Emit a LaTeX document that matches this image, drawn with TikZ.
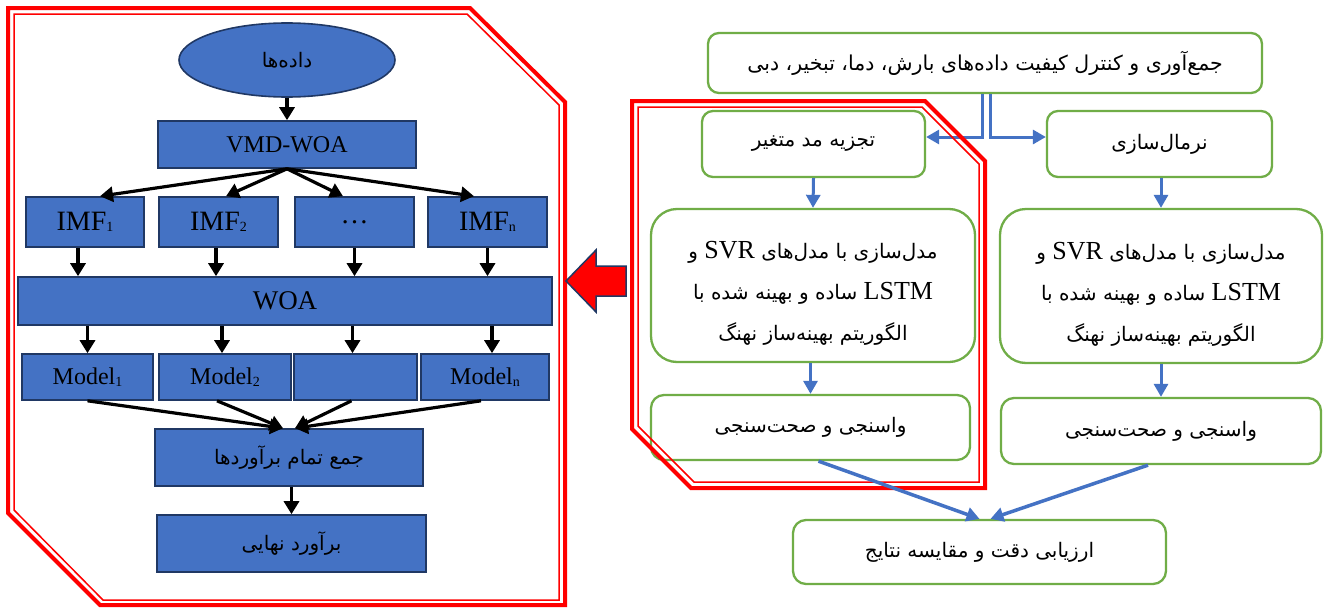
\documentclass[tikz,border=0pt]{standalone}
\usepackage{fontspec}
\setmainfont{Liberation Serif}
\newfontfamily\arabicfont[Script=Arabic]{DejaVu Sans}
\TeXXeTstate=1
\usetikzlibrary{arrows.meta,shapes.geometric,calc}
\definecolor{boxblue}{HTML}{4472C4}
\definecolor{bordernavy}{HTML}{203864}
\definecolor{grn}{HTML}{70AD47}
\definecolor{lineblue}{HTML}{4472C4}
\newcommand\prs[2][20]{{\arabicfont\fontsize{#1}{#1}\selectfont\beginR #2\endR}}
\newcommand\lat[2][26]{{\rmfamily\fontsize{#1}{#1}\selectfont #2}}
\newcommand\sbs[1]{{\fontsize{14}{14}\selectfont\raisebox{-1.5pt}{#1}}}
\tikzset{
  bbox/.style={draw=bordernavy, line width=1.6pt, fill=boxblue, inner sep=0pt, text=black},
  gbox/.style={draw=grn, line width=2.3pt, fill=white, rounded corners=11pt, inner sep=0pt, text=black},
  blk/.style={-{Triangle[length=13pt,width=15pt]}, line width=3.2pt, black},
  bla/.style={-{Triangle[length=13pt,width=14pt]}, line width=3pt, lineblue},
  redthick/.style={draw=red, line width=4pt, line join=miter},
  redthin/.style={draw=red, line width=1.5pt, line join=miter},
}
\begin{document}
\begin{tikzpicture}[x=1pt,y=-1pt]
\useasboundingbox (0,0) rectangle (1325,608);
\fill[white] (0,0) rectangle (1325,608);

% ---------------- left panel ----------------
\node[bbox, ellipse, minimum width=216pt, minimum height=74pt] (data) at (287,60) {\prs{داده‌ها}};
\node[bbox, minimum width=258pt, minimum height=47pt, font=\fontsize{24}{24}\selectfont] (vmd) at (287,144.5) {VMD-WOA};
\node[bbox, minimum width=118pt, minimum height=50pt, font=\fontsize{28}{28}\selectfont] (imf1) at (85,222) {IMF\sbs{1}};
\node[bbox, minimum width=119pt, minimum height=50pt, font=\fontsize{28}{28}\selectfont] (imf2) at (218.5,222) {IMF\sbs{2}};
\node[bbox, minimum width=119pt, minimum height=50pt, font=\fontsize{28}{28}\selectfont] (imf3) at (354.5,222) {\raisebox{-4pt}{\dots}};
\node[bbox, minimum width=119pt, minimum height=50pt, font=\fontsize{28}{28}\selectfont] (imfn) at (487.5,222) {IMF\sbs{n}};
\node[bbox, minimum width=534pt, minimum height=48pt, font=\fontsize{27}{27}\selectfont] (woa) at (285,301) {\raisebox{-6pt}{WOA}};
\node[bbox, minimum width=131pt, minimum height=46pt, font=\fontsize{24}{24}\selectfont] (m1) at (87.5,377) {\raisebox{-2pt}{Model\sbs{1}}};
\node[bbox, minimum width=132pt, minimum height=46pt, font=\fontsize{24}{24}\selectfont] (m2) at (225,377) {\raisebox{-2pt}{Model\sbs{2}}};
\node[bbox, minimum width=123pt, minimum height=46pt] (m3) at (355.5,377) {};
\node[bbox, minimum width=128pt, minimum height=46pt, font=\fontsize{24}{24}\selectfont] (mn) at (485,377) {\raisebox{-2pt}{Model\sbs{n}}};
\node[bbox, minimum width=268pt, minimum height=57pt] (sum) at (289,457.5) {\prs{جمع تمام برآوردها}};
\node[bbox, minimum width=269pt, minimum height=57pt] (final) at (291.5,543.5) {\prs{برآورد نهایی}};

\draw[blk] (data.south) -- (vmd.north);
\draw[blk] (vmd.south) -- ([xshift=15pt]imf1.north);
\draw[blk] (vmd.south) -- ([xshift=7.5pt]imf2.north);
\draw[blk] (vmd.south) -- ([xshift=-11.5pt]imf3.north);
\draw[blk] (vmd.south) -- ([xshift=-13.5pt]imfn.north);
\draw[blk] ([xshift=-7pt]imf1.south) -- ([xshift=-7pt]imf1.south |- woa.north);
\draw[blk] ([xshift=-2.5pt]imf2.south) -- ([xshift=-2.5pt]imf2.south |- woa.north);
\draw[blk] (imf3.south) -- (imf3.south |- woa.north);
\draw[blk] (imfn.south) -- (imfn.south |- woa.north);
\draw[blk] (m1.north |- woa.south) -- (m1.north);
\draw[blk] ([xshift=-3pt]m2.north |- woa.south) -- ([xshift=-3pt]m2.north);
\draw[blk] ([xshift=-3pt]m3.north |- woa.south) -- ([xshift=-3pt]m3.north);
\draw[blk] ([xshift=7pt]mn.north |- woa.south) -- ([xshift=7pt]mn.north);
\draw[blk] (m1.south) -- ([xshift=-6pt]sum.north);
\draw[blk] ([xshift=-8pt]m2.south) -- ([xshift=-6pt]sum.north);
\draw[blk] ([xshift=-4pt]m3.south) -- ([xshift=6pt]sum.north);
\draw[blk] ([xshift=-4pt]mn.south) -- ([xshift=6pt]sum.north);
\draw[blk] (final.north |- sum.south) -- (final.north);

\draw[redthick] (8,8) -- (470,8) -- (565,102) -- (565,605) -- (100,605) -- (8,513) -- cycle;
\draw[redthin] (14,14) -- (467,14) -- (559,105) -- (559,600) -- (103,600) -- (14,510) -- cycle;

% big red arrow
\draw[draw=bordernavy, line width=1.5pt, fill=red, line join=miter] (626,266) -- (596,266) -- (596,250) -- (566,281) -- (596,312) -- (596,296) -- (626,296) -- cycle;

% ---------------- right panel ----------------
\node[gbox, minimum width=554pt, minimum height=60pt] (top) at (985,63) {\prs[20.5]{جمع‌آوری و کنترل کیفیت داده‌های بارش، دما، تبخیر، دبی}};
\node[gbox, minimum width=223pt, minimum height=66pt] (tajz) at (813.5,144) {\prs{تجزیه مد متغیر}};
\node[gbox, minimum width=225pt, minimum height=66pt] (norm) at (1159.5,144) {\prs{نرمال‌سازی}};
\node[gbox, rounded corners=26pt, minimum width=324pt, minimum height=153pt, align=center, font=\fontsize{20}{41}\selectfont] (modL) at (813,285.5)
  {\rule{0pt}{33pt}\prs{مدل‌سازی با مدل‌های \lat{SVR} و}\\ \prs{\lat{LSTM} ساده و بهینه شده با}\\ \prs{الگوریتم بهینه‌ساز نهنگ}};
\node[gbox, rounded corners=26pt, minimum width=322pt, minimum height=154pt, align=center, font=\fontsize{20}{41}\selectfont] (modR) at (1161,286)
  {\rule{0pt}{33pt}\prs{مدل‌سازی با مدل‌های \lat{SVR} و}\\ \prs{\lat{LSTM} ساده و بهینه شده با}\\ \prs{الگوریتم بهینه‌ساز نهنگ}};
\node[gbox, rounded corners=13pt, minimum width=319pt, minimum height=65pt] (valL) at (810.5,427.5) {\prs{واسنجی و صحت‌سنجی}};
\node[gbox, rounded corners=13pt, minimum width=320pt, minimum height=66pt] (valR) at (1161,431) {\prs{واسنجی و صحت‌سنجی}};
\node[gbox, rounded corners=13pt, minimum width=373pt, minimum height=64pt] (res) at (979.5,552) {\prs{ارزیابی دقت و مقایسه نتایج}};

\draw[bla] ([xshift=-3pt]top.south) |- ([yshift=7pt]tajz.east);
\draw[bla] ([xshift=5pt]top.south) |- ([yshift=7pt]norm.west);
\draw[bla] (tajz.south) -- (modL.north);
\draw[bla] (modR.north |- norm.south) -- (modR.north);
\draw[bla] (valL.north |- modL.south) -- (valL.north);
\draw[bla] (modR.south) -- (valR.north);

\draw[redthick] (632,101) -- (925,101) -- (985,161) -- (985,488) -- (691,488) -- (632,429) -- cycle;
\draw[redthin] (638,107) -- (922,107) -- (979,164) -- (979,482) -- (694,482) -- (638,426) -- cycle;

\draw[bla, line width=3.5pt] ([xshift=8pt]valL.south) -- ([xshift=0pt]res.north);
\draw[bla, line width=3.5pt] ([xshift=-13pt]valR.south) -- ([xshift=11pt]res.north);
\end{tikzpicture}
\end{document}
